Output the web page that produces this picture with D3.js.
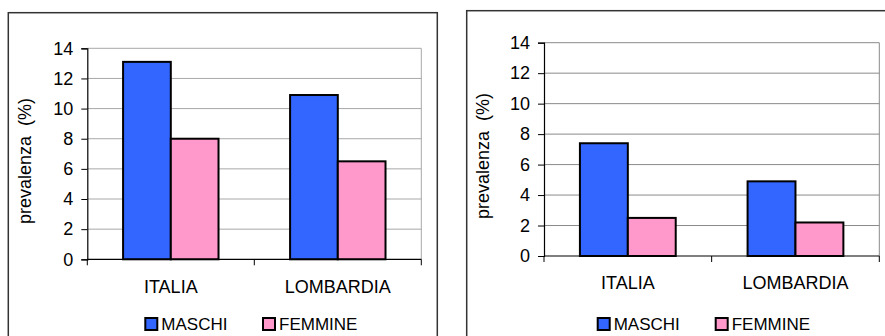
<!DOCTYPE html>
<html>
<head>
<meta charset="utf-8">
<script src="https://cdn.jsdelivr.net/npm/d3@7"></script>
<style>
  html, body { margin: 0; padding: 0; background: #fff; }
  svg { display: block; font-family: Arial, "Liberation Sans", sans-serif; }
</style>
</head>
<body>
<svg id="chart" width="885" height="336"></svg>
<script>
// Prevalence (%) by area and sex, two panels
const categories = ["ITALIA", "LOMBARDIA"];
const seriesNames = ["MASCHI", "FEMMINE"];
const seriesColors = ["#3366FF", "#FF99CC"];
const yTicks = [0, 2, 4, 6, 8, 10, 12, 14];
const yLabel = "prevalenza  (%)";

const leftMaschi = [13.1, 10.9];
const leftFemmine = [8.0, 6.5];
const rightMaschi = [7.4, 4.9];
const rightFemmine = [2.5, 2.2];

const svg = d3.select("#chart");

function drawPanel(opts) {
  const g = svg.append("g");
  const series = [opts.maschi, opts.femmine];

  // outer frame
  g.append("rect")
    .attr("x", opts.frame[0]).attr("y", opts.frame[1])
    .attr("width", opts.frame[2]).attr("height", opts.frame[3])
    .attr("fill", "none").attr("stroke", "#333").attr("stroke-width", 1.5);

  const x = d3.scaleBand().domain(categories).range([opts.x0, opts.x1]).padding(0);
  const y = d3.scaleLinear().domain([0, 14]).range([opts.y0, opts.yTop]);
  const gap = x.bandwidth() * 1.5 / 3.5;
  const xs = d3.scaleBand().domain(seriesNames).range([gap / 2, x.bandwidth() - gap / 2]).padding(0);

  // plot area border (top/right) and gridlines
  g.append("path")
    .attr("d", `M${opts.x0},${y(14)}H${opts.x1}V${opts.y0}`)
    .attr("fill", "none").attr("stroke", opts.gridColor).attr("stroke-width", 1);
  g.selectAll(".grid").data(yTicks.filter(t => t > 0 && t < 14)).join("line")
    .attr("x1", opts.x0).attr("x2", opts.x1)
    .attr("y1", d => y(d)).attr("y2", d => y(d))
    .attr("stroke", opts.gridColor).attr("stroke-width", 1);

  // bars
  seriesNames.forEach((s, si) => {
    g.selectAll(".bar" + si).data(categories).join("rect")
      .attr("x", c => x(c) + xs(s))
      .attr("y", (c, i) => y(series[si][i]))
      .attr("width", xs.bandwidth())
      .attr("height", (c, i) => opts.y0 - y(series[si][i]))
      .attr("fill", seriesColors[si])
      .attr("stroke", "#000").attr("stroke-width", 2);
  });

  // y axis
  const yAxis = d3.axisLeft(y).tickValues(yTicks).tickSize(6).tickPadding(8);
  const ya = g.append("g").attr("transform", `translate(${opts.x0},0)`).call(yAxis);
  ya.select(".domain").attr("stroke", "#000").attr("stroke-width", 1.2);
  ya.selectAll(".tick line").attr("stroke", "#000");
  ya.selectAll("text").attr("font-size", 18).attr("fill", "#000")
    .attr("font-family", "Arial, 'Liberation Sans', sans-serif");

  // x axis: ticks at category boundaries
  const bounds = [opts.x0, x(categories[1]), opts.x1];
  g.append("line").attr("x1", opts.x0).attr("x2", opts.x1)
    .attr("y1", opts.y0).attr("y2", opts.y0)
    .attr("stroke", "#000").attr("stroke-width", 1.2);
  g.selectAll(".xtick").data(bounds).join("line")
    .attr("x1", d => d).attr("x2", d => d)
    .attr("y1", opts.y0).attr("y2", opts.y0 + 6)
    .attr("stroke", "#000");
  g.selectAll(".xlab").data(categories).join("text")
    .attr("x", c => x(c) + x.bandwidth() / 2)
    .attr("y", opts.y0 + 27)
    .attr("dy", "0.35em")
    .attr("text-anchor", "middle")
    .attr("font-size", 18)
    .text(c => c);

  // y label
  g.append("text")
    .attr("transform", `translate(${opts.ylabX},${opts.ylabY}) rotate(-90)`)
    .attr("text-anchor", "middle").attr("dy", "0.35em")
    .attr("font-size", 18)
    .attr("xml:space", "preserve")
    .style("white-space", "pre")
    .text(yLabel);

  // legend
  const lg = g.append("g");
  seriesNames.forEach((s, si) => {
    const lx = opts.legendX[si];
    lg.append("rect")
      .attr("x", lx).attr("y", opts.legendY - 6)
      .attr("width", 12).attr("height", 12)
      .attr("fill", seriesColors[si]).attr("stroke", "#000").attr("stroke-width", 2);
    lg.append("text")
      .attr("x", lx + 16).attr("y", opts.legendY).attr("dy", "0.35em")
      .attr("font-size", 17)
      .text(s);
  });
}

drawPanel({
  frame: [8.3, 12.7, 429, 340],
  x0: 87.3, x1: 421.3, y0: 259.3, yTop: 48.3,
  gridColor: "#a8a8a8",
  maschi: leftMaschi, femmine: leftFemmine,
  ylabX: 25, ylabY: 161,
  legendX: [145.3, 263], legendY: 324
});

drawPanel({
  frame: [466.7, 10.7, 440, 340],
  x0: 544, x1: 879.3, y0: 256, yTop: 42.7,
  gridColor: "#8a8a8a",
  maschi: rightMaschi, femmine: rightFemmine,
  ylabX: 482.7, ylabY: 156,
  legendX: [597.7, 715.7], legendY: 324
});
</script>
</body>
</html>
